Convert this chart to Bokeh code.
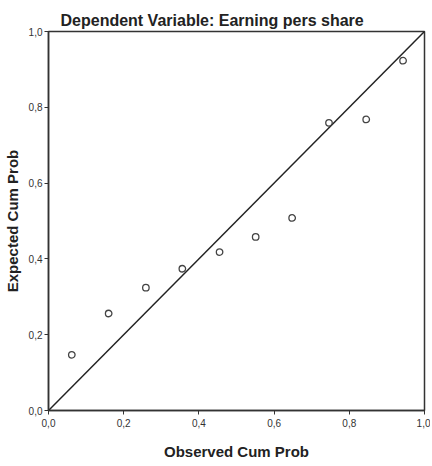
from bokeh.plotting import figure
from bokeh.embed import file_html
from bokeh.resources import INLINE
from bokeh.models import FixedTicker, Range1d

title_text = "Dependent Variable: Earning pers share"
x_label = "Observed Cum Prob"
y_label = "Expected Cum Prob"

observed = [0.062, 0.160, 0.259, 0.356, 0.455, 0.551, 0.648, 0.746, 0.845, 0.943]
expected = [0.147, 0.256, 0.324, 0.374, 0.418, 0.458, 0.508, 0.759, 0.768, 0.923]
ref_x = [0.0, 1.0]
ref_y = [0.0, 1.0]

ticks = [0.0, 0.2, 0.4, 0.6, 0.8, 1.0]
tick_labels = ["0,0", "0,2", "0,4", "0,6", "0,8", "1,0"]

p = figure(width=430, height=462, output_backend="svg", toolbar_location=None,
           x_range=Range1d(0, 1), y_range=Range1d(0, 1),
           min_border_left=48, min_border_right=6, min_border_top=31, min_border_bottom=48)

p.title.text = title_text
p.title.align = "left"
p.title.offset = 12
p.title.standoff = 5
p.title.text_font = "Liberation Sans"
p.title.text_font_size = "16px"
p.title.text_font_style = "bold"
p.title.text_color = "#222222"

p.grid.visible = False
p.outline_line_color = "#333333"
p.outline_line_width = 1.5
p.background_fill_color = "white"
p.border_fill_color = "white"

for ax, lab in ((p.xaxis[0], x_label), (p.yaxis[0], y_label)):
    ax.ticker = FixedTicker(ticks=ticks)
    ax.major_label_overrides = {t: l for t, l in zip(ticks, tick_labels)}
    ax.minor_tick_line_color = None
    ax.major_tick_in = 0
    ax.major_tick_out = 4
    ax.axis_line_color = "#333333"
    ax.axis_line_width = 1.5
    ax.major_tick_line_color = "#333333"
    ax.major_label_text_font = "Liberation Sans"
    ax.major_label_text_font_size = "10px"
    ax.major_label_text_color = "#333333"
    ax.axis_label = lab
    ax.axis_label_text_font = "Liberation Sans"
    ax.axis_label_text_font_size = "15px"
    ax.axis_label_text_font_style = "bold"
    ax.axis_label_text_color = "#222222"

p.yaxis[0].major_label_standoff = 2
p.yaxis[0].axis_label_standoff = 5
p.xaxis[0].major_label_standoff = 4
p.xaxis[0].axis_label_standoff = 13

p.line(ref_x, ref_y, line_color="#222222", line_width=1.5)
p.scatter(observed, expected, marker="circle", size=6.5, fill_color=None,
          line_color="#444444", line_width=1.3)

open("out.html", "w").write(file_html(p, INLINE))
